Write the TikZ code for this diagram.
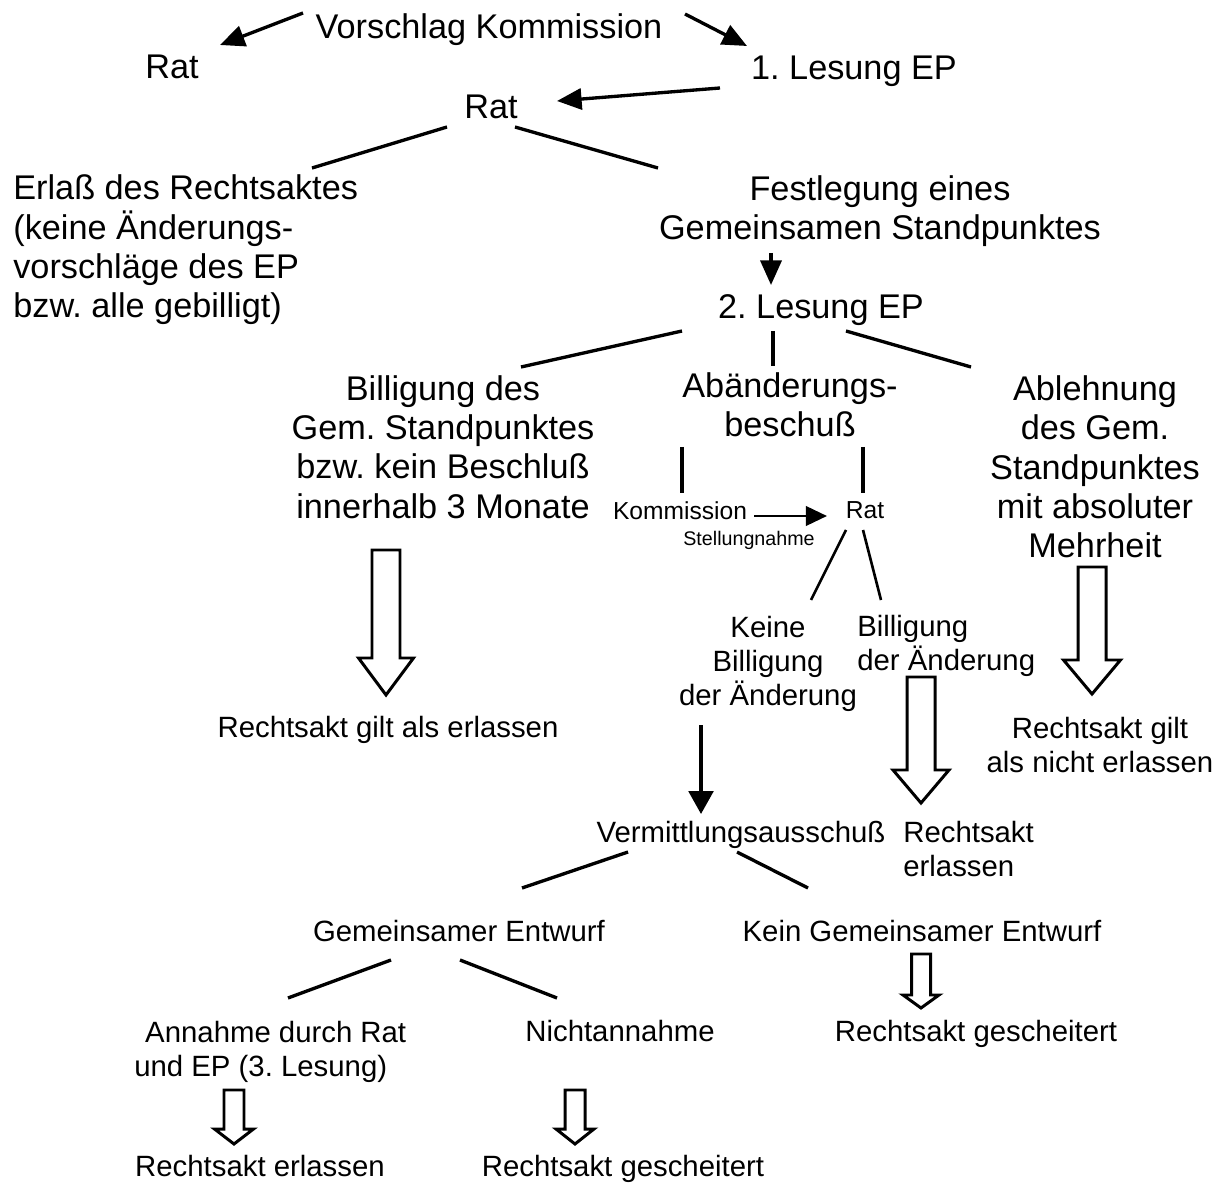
\documentclass[tikz,border=0pt]{standalone}
\usepackage{fontspec}
\setmainfont{Liberation Sans}
\usetikzlibrary{arrows.meta}
\frenchspacing
\newcommand\hollowarr[6]{%
  \draw[hollow] ({#1-#5/2},#2) -- ({#1+#5/2},#2) -- ({#1+#5/2},#3) -- ({#1+#6/2},#3)
    -- (#1,#4) -- ({#1-#6/2},#3) -- ({#1-#5/2},#3) -- cycle;}
\begin{document}
\begin{tikzpicture}[x=0.02cm,y=-0.02cm,
  big/.style={font=\fontsize{19.5}{22.4}\selectfont, inner sep=0pt},
  med/.style={font=\fontsize{16.7}{19.3}\selectfont, inner sep=0pt},
  smallt/.style={font=\fontsize{14}{16}\selectfont, inner sep=0pt},
  tinyt/.style={font=\fontsize{11.2}{13}\selectfont, inner sep=0pt},
  ln/.style={line width=1.9pt},
  arr/.style={ln, -{Triangle[length=14pt,width=12pt]}},
  sarr/.style={line width=1.7pt, -{Triangle[length=12pt,width=11pt]}},
  hollow/.style={line width=1.7pt, line join=miter}]
\useasboundingbox[fill=white] (0,0) rectangle (1217,1185);

% text nodes
\node[big] (vk) at (489,30) {Vorschlag Kommission};
\node[big] (rat1) at (172,67) {Rat};
\node[big] (l1) at (854,71) {1. Lesung EP};
\node[big] (rat2) at (491,107) {Rat};
\node[big, align=left, anchor=west] (erl) at (13,250) {Erlaß des Rechtsaktes\\(keine Änderungs-\\vorschläge des EP\\bzw. alle gebilligt)};
\node[big, align=center] (fest) at (880,211) {Festlegung eines\\Gemeinsamen Standpunktes};
\node[big] (l2) at (821,310) {2. Lesung EP};
\node[big, align=center] (bill) at (443,447) {Billigung des\\Gem. Standpunktes\\bzw. kein Beschluß\\innerhalb 3 Monate};
\node[big, align=center] (abae) at (790,405) {Abänderungs-\\beschuß};
\node[big, align=center] (abl) at (1095,467) {Ablehnung\\des Gem.\\Standpunktes\\mit absoluter\\Mehrheit};
\node[smallt] (kom) at (680,511) {Kommission};
\node[smallt] (rats) at (865,510) {Rat};
\node[tinyt] (stell) at (749,540) {Stellungnahme};
\node[med, align=center] (keine) at (768,664) {Keine\\Billigung\\der Änderung};
\node[med, align=left, anchor=west] (billae) at (857,646) {Billigung\\der Änderung};
\node[med] (ge) at (388,730) {Rechtsakt gilt als erlassen};
\node[med, align=center] (gne) at (1100,745) {Rechtsakt gilt\\als nicht erlassen};
\node[med] (verm) at (741,835) {Vermittlungsausschuß};
\node[med, align=left, anchor=west] (rerl) at (903,849) {Rechtsakt\\erlassen};
\node[med] (geme) at (459,931) {Gemeinsamer Entwurf};
\node[med] (keine2) at (922,931) {Kein Gemeinsamer Entwurf};
\node[med, align=left, anchor=west] (ann) at (134,1052) {\hspace*{6.2pt}Annahme durch Rat\\und EP (3. Lesung)};
\node[med] (nicht) at (620,1031) {Nichtannahme};
\node[med] (rg1) at (976,1034) {Rechtsakt gescheitert};
\node[med] (rerl2) at (260,1166) {Rechtsakt erlassen};
\node[med] (rg2) at (623,1169) {Rechtsakt gescheitert};

% connector end points
\coordinate (vk-l) at (303,13);   \coordinate (rat1-n) at (220,45);
\coordinate (vk-r) at (685,14);   \coordinate (l1-n) at (747,46);
\coordinate (l1-w) at (720,88);   \coordinate (rat2-e) at (557,101);
\coordinate (rat2-sw) at (447,127); \coordinate (erl-ne) at (312,168);
\coordinate (rat2-se) at (515,127); \coordinate (fest-nw) at (658,168);
\coordinate (fest-s) at (771,253); \coordinate (l2-n) at (771,285);
\coordinate (l2-sw) at (682,331); \coordinate (bill-ne) at (521,367);
\coordinate (l2-s) at (773,331);  \coordinate (abae-n) at (773,366);
\coordinate (l2-se) at (846,331); \coordinate (abl-nw) at (971,367);
\coordinate (abae-sw) at (682,447); \coordinate (kom-n) at (682,493);
\coordinate (abae-se) at (863,447); \coordinate (rats-n) at (863,493);
\coordinate (kom-e) at (754,516); \coordinate (rats-w) at (827,516);
\coordinate (rats-sw) at (846,530); \coordinate (keine-n) at (811,600);
\coordinate (rats-se) at (863,530); \coordinate (billae-n) at (881,600);
\coordinate (keine-s) at (701,725); \coordinate (verm-n) at (701,814);
\coordinate (verm-sw) at (628,852); \coordinate (geme-n) at (522,888);
\coordinate (verm-se) at (737,852); \coordinate (keine2-n) at (808,888);
\coordinate (geme-sw) at (391,960); \coordinate (ann-n) at (288,998);
\coordinate (geme-se) at (460,960); \coordinate (nicht-n) at (557,998);

% connectors
\draw[arr] (vk-l) -- (rat1-n);
\draw[arr] (vk-r) -- (l1-n);
\draw[arr] (l1-w) -- (rat2-e);
\draw[ln] (rat2-sw) -- (erl-ne);
\draw[ln] (rat2-se) -- (fest-nw);
\draw[arr] (fest-s) -- (l2-n);
\draw[ln] (l2-sw) -- (bill-ne);
\draw[ln] (l2-s) -- (abae-n);
\draw[ln] (l2-se) -- (abl-nw);
\draw[ln] (abae-sw) -- (kom-n);
\draw[ln] (abae-se) -- (rats-n);
\draw[sarr] (kom-e) -- (rats-w);
\draw[line width=1.5pt] (rats-sw) -- (keine-n);
\draw[line width=1.5pt] (rats-se) -- (billae-n);
\draw[ln, -{Triangle[length=13pt,width=14pt]}] (keine-s) -- (verm-n);
\draw[ln] (verm-sw) -- (geme-n);
\draw[ln] (verm-se) -- (keine2-n);
\draw[ln] (geme-sw) -- (ann-n);
\draw[ln] (geme-se) -- (nicht-n);

% hollow arrows
\hollowarr{386}{550}{658}{695}{28}{55}
\hollowarr{921}{677}{770}{803}{28}{56}
\hollowarr{1092}{567}{660}{694}{28}{57}
\hollowarr{921}{954}{995}{1008}{19}{36}
\hollowarr{234}{1090}{1129}{1144}{20}{39}
\hollowarr{575}{1090}{1129}{1144}{20}{38}
\end{tikzpicture}
\end{document}
